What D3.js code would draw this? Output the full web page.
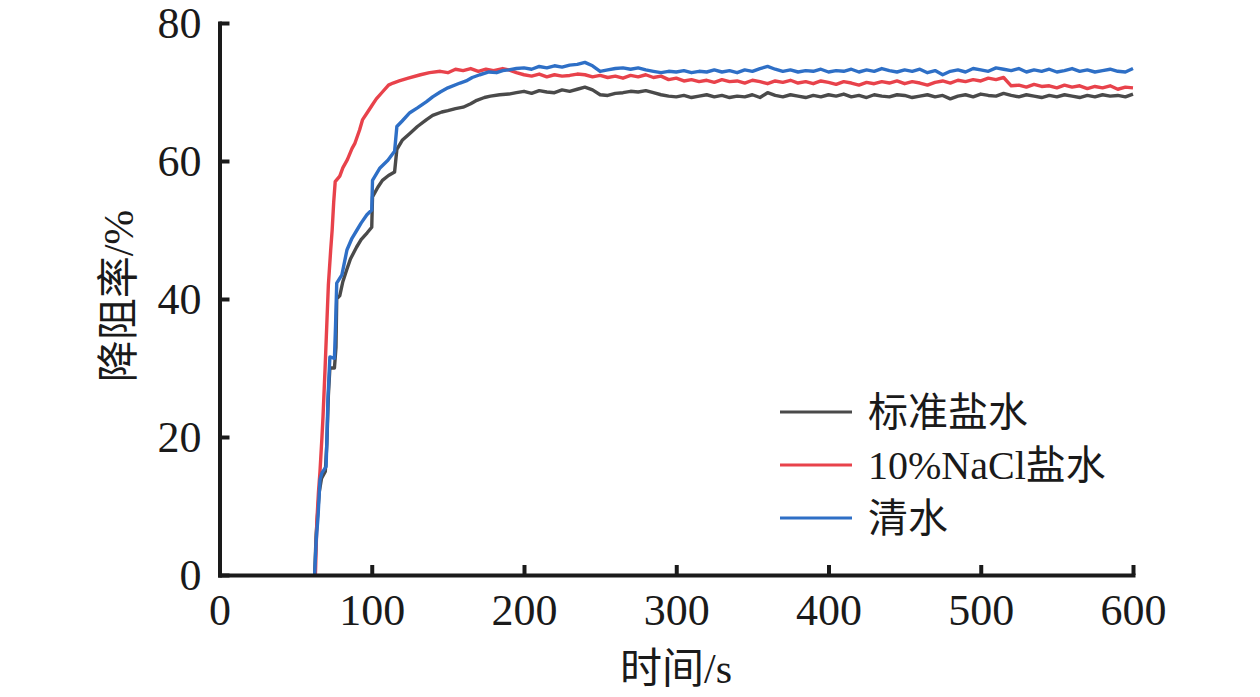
<!DOCTYPE html>
<html lang="zh">
<head>
    <meta charset="UTF-8">
    <title>降阻率</title>
    <script src="https://cdn.jsdelivr.net/npm/d3@7"></script>
    <style>
        body{ margin:0; background:#fff; }
        svg text{ font-family:"Liberation Serif","DejaVu Serif","Noto Sans CJK SC",serif !important; fill:#1a1a1a; }
        .axis path, .axis line{ stroke:#1a1a1a; stroke-width:4; }
        .axis path{ stroke-linecap:square; }
        .series{ fill:none; stroke-width:3.4; stroke-linejoin:round; }
    </style>
</head>
<body>
<script type="text/javascript">
// tick labels
var xTicks = [0, 100, 200, 300, 400, 500, 600];
var yTicks = [0, 20, 40, 60, 80];
var seriesNames = ["标准盐水", "10%NaCl盐水", "清水"];
var seriesColors = ["#4a4a4a", "#e8424b", "#2e6fc6"];

// rising part of each curve, [time s, value %]
var brineRise = [[62.5,0],[63.5,6],[64.5,9],[65.5,12],[67,14],[69.5,15],[70.5,19],[71.5,26],[72.5,30],[75.5,30],[76.5,33],[77,40],
    [79,40.5],[81,42.5],[83.5,44.2],[86,45.8],[90,47.5],[93,48.6],[97,49.6],[100,50.4],[100.5,54.8],[104,56.2],[107,57.2],
    [111,57.9],[115,58.4],[116.5,61.7],[120,63],[125,64],[130,65],[136,66],[140,66.6],[146,67.1],[150,67.3],[155,67.6],
    [160,67.8],[165,68.3],[169,68.8],[174,69.2],[178,69.4],[184,69.6]];
var naclRise = [[63,0],[64,8],[65,12],[66,15],[67.3,20],[68,23],[69.3,29.7],[70.6,37],[71.5,42],[73,47],[74,50],[75,54],[76,57],
    [79,57.8],[81,59],[84,60.2],[87,61.8],[89,62.6],[92,64.5],[94,66],[97,67],[100,68],[103,69],[107,70],[111,71],[114,71.3],
    [118,71.6],[124,72],[132,72.5],[138,72.8],[145,73],[150,72.8],[155,73.3],[160,73.1],[165,73.4],[170,73.0],[175,73.3],
    [180,73.1],[186,73.4]];
var waterRise = [[62.5,0],[63.5,5],[64.7,8.4],[66,13.8],[67.3,14.8],[70,15.7],[70.6,20],[71.2,25.4],[72.5,31.6],[75.5,31.4],
    [76.2,36],[77,42.3],[80.4,43.5],[83.7,47.1],[87,48.8],[90.3,50],[93,51],[96.8,52.2],[100,52.9],[100.5,57.2],[105.4,59],
    [110.6,60.1],[115,61.4],[116.5,65],[120,65.8],[125,67],[130,67.7],[136,68.6],[140,69.3],[145,70],[150,70.6],[158,71.3],
    [162,71.6],[166,72.1],[171,72.5],[177,72.9],[182,72.8],[186,73.1]];

// plateau, shared sampling times
var plateauTimes = [190,195,200,205,210,215,220,225,230,235,240,245,250,255,260,265,270,275,280,285,
    290,295,300,305,310,315,320,325,330,335,340,345,350,355,360,365,370,375,380,385,
    390,395,400,405,410,415,420,425,430,435,440,445,450,455,460,465,470,475,480,485,
    490,495,500,505,510,515,520,525,530,535,540,545,550,555,560,565,570,575,580,585,
    590,595,600];
var brinePlateau = [69.7,69.9,70.1,69.8,70.2,70.0,69.9,70.3,70.1,70.4,70.7,70.3,69.6,69.5,69.8,69.9,70.1,70.0,70.2,69.9,
    69.6,69.4,69.3,69.5,69.2,69.4,69.6,69.3,69.5,69.2,69.4,69.3,69.6,69.2,69.9,69.5,69.3,69.6,69.4,69.2,
    69.5,69.3,69.6,69.4,69.7,69.3,69.5,69.2,69.6,69.4,69.3,69.6,69.5,69.2,69.4,69.6,69.3,69.5,69.0,69.4,
    69.6,69.3,69.7,69.5,69.4,69.8,69.5,69.3,69.6,69.4,69.2,69.5,69.3,69.6,69.4,69.2,69.5,69.3,69.6,69.4,
    69.5,69.3,69.7];
var naclPlateau = [73.2,72.8,72.5,72.3,72.6,72.2,72.5,72.3,72.4,72.6,72.5,72.2,72.4,72.1,72.3,72.0,72.4,72.2,72.5,72.1,
    72.3,71.8,72.0,71.6,71.8,71.5,71.7,71.4,71.8,71.5,71.6,71.3,71.7,71.5,71.2,71.6,71.4,71.7,71.3,71.5,
    71.2,71.6,71.4,71.1,71.5,71.3,71.0,71.4,71.2,71.5,71.3,71.6,71.2,71.5,71.3,71.0,71.4,71.6,71.3,71.7,
    71.5,71.8,71.6,72.0,71.8,72.1,70.9,71.0,70.7,71.1,70.8,70.9,70.6,71.0,70.7,70.9,70.5,70.8,70.6,70.9,
    70.4,70.7,70.6];
var waterPlateau = [73.2,73.4,73.5,73.3,73.7,73.5,73.8,73.6,73.9,74.0,74.3,73.8,73.0,73.2,73.4,73.5,73.3,73.5,73.2,73.0,
    72.8,73.0,72.9,73.1,72.8,73.0,72.9,73.2,72.9,73.1,72.8,73.2,73.0,73.4,73.7,73.3,73.0,73.2,72.9,73.1,
    73.0,73.3,72.9,73.1,73.0,73.3,72.9,73.2,73.0,73.4,73.1,72.9,73.2,73.0,73.3,72.8,73.1,72.5,73.0,73.2,
    72.9,73.4,73.2,73.0,73.5,73.3,73.1,73.4,72.9,73.2,73.0,73.3,72.9,73.1,73.4,73.0,73.2,72.9,73.1,73.3,
    73.0,72.9,73.4];

function joinSeries(rise, plateau) {
    return rise.concat(plateauTimes.map(function(t, i) { return [t, plateau[i]]; }));
}
var seriesData = [joinSeries(brineRise, brinePlateau), joinSeries(naclRise, naclPlateau), joinSeries(waterRise, waterPlateau)];

var width = 1260, height = 697;
var svg = d3.select("body").append("svg").attr("width", width).attr("height", height);

var xScale = d3.scaleLinear().domain([0, 600]).range([219.5, 1133]);
var yScale = d3.scaleLinear().domain([0, 80]).range([575, 23]);

var line = d3.line()
    .x(function(d) { return xScale(d[0]); })
    .y(function(d) { return yScale(d[1]); });

svg.selectAll(".series").data(seriesData)
    .enter()
    .append("path")
    .attr("class", "series")
    .attr("stroke", function(d, i) { return seriesColors[i]; })
    .attr("d", line);

var xAxis = d3.axisBottom(xScale).tickValues(xTicks).tickSizeInner(-10).tickSizeOuter(0).tickPadding(19);
var yAxis = d3.axisLeft(yScale).tickValues(yTicks).tickSizeInner(-10).tickSizeOuter(0).tickPadding(18);

svg.append("g").attr("class", "axis").attr("transform", "translate(0,575)").call(xAxis);
svg.append("g").attr("class", "axis").attr("transform", "translate(219.5,0)").call(yAxis);
svg.selectAll(".axis").attr("font-family", null);
svg.selectAll(".axis text").style("font-size", "44px").attr("fill", "#1a1a1a");

svg.append("text")
    .attr("x", 676).attr("y", 683)
    .attr("text-anchor", "middle")
    .style("font-size", "42px")
    .text("时间/s");

svg.append("text")
    .attr("transform", "translate(133,296) rotate(-90)")
    .attr("text-anchor", "middle")
    .style("font-size", "42px")
    .text("降阻率/%");

// legend
var legend = svg.append("g");
var rows = legend.selectAll("g").data(seriesNames).enter().append("g")
    .attr("transform", function(d, i) { return "translate(780," + (412 + i * 53) + ")"; });
rows.append("line")
    .attr("x1", 0).attr("x2", 72)
    .attr("stroke-width", 3)
    .attr("stroke", function(d, i) { return seriesColors[i]; });
rows.append("text")
    .attr("x", 88).attr("dy", "0.35em")
    .style("font-size", "40px")
    .text(function(d) { return d; });
</script>
</body>
</html>
